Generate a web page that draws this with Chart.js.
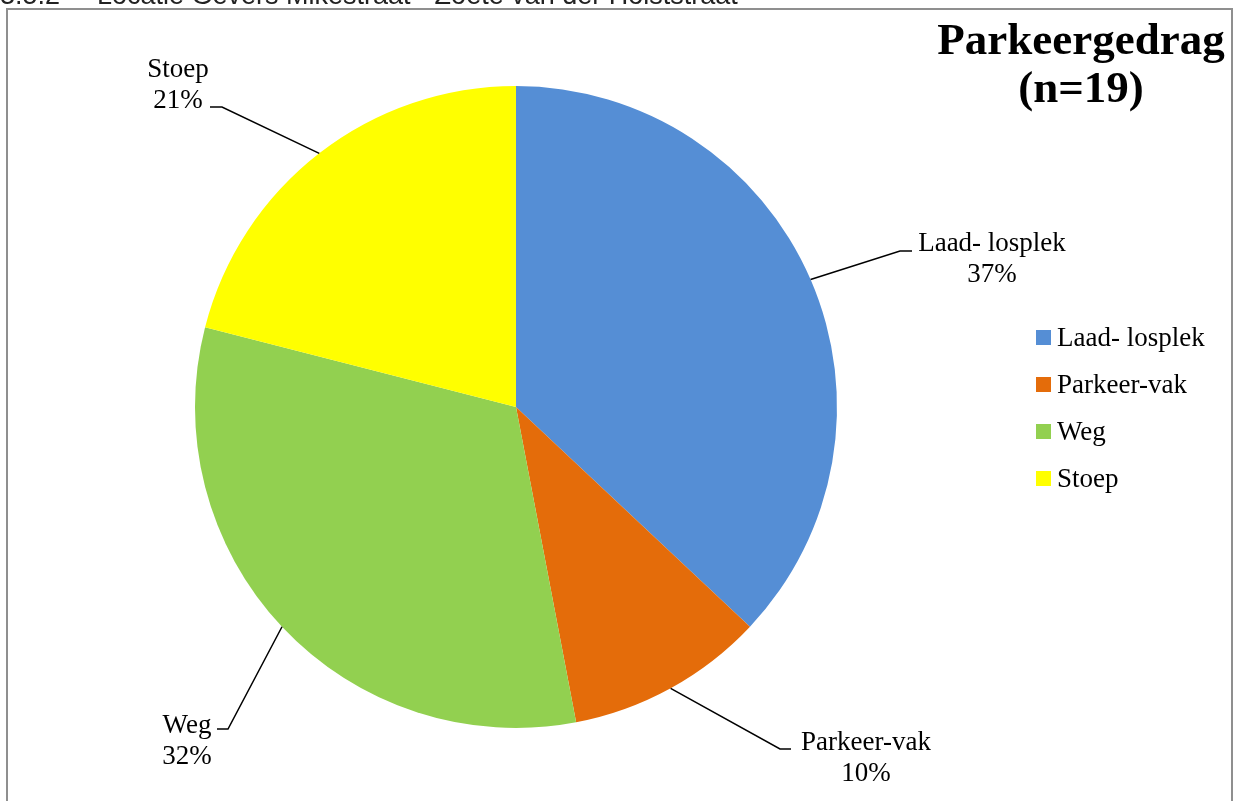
<!DOCTYPE html>
<html>
<head>
<meta charset="utf-8">
<script src="https://cdn.jsdelivr.net/npm/chart.js@4.4.0/dist/chart.umd.min.js"></script>
<style>
  html, body { margin: 0; padding: 0; background: #fff; overflow: hidden; }
  canvas { display: block; }
</style>
</head>
<body>
<canvas id="c" width="1236" height="801"></canvas>
<script>
// Parking behaviour at the location (n = 19), share per category in percent
const categories = ['Laad- losplek', 'Parkeer-vak', 'Weg', 'Stoep'];
const shares = [37, 10, 32, 21];
const sliceColors = ['#558ED5', '#E46C0A', '#92D050', '#FFFF00'];
const titleLines = ['Parkeergedrag', '(n=19)'];
const sectionNumber = '3.5.2';
const sectionHeading = 'Locatie Gevers Mikestraat - Zoete van der Holststraat';

// Where each data label sits: elbow of the leader line, end of its short
// horizontal tail, centre x of the text block and baseline of the first line.
const labelLayout = [
  { elbow: [900, 251], tail: 912, cx: 992, base: 251 },
  { elbow: [780, 749], tail: 791, cx: 866, base: 750 },
  { elbow: [228, 729], tail: 217, cx: 187, base: 733 },
  { elbow: [222, 107], tail: 210, cx: 178, base: 77 }
];

const SERIF = '"Liberation Serif", "Times New Roman", serif';

const decorations = {
  id: 'decorations',
  beforeDraw(chart) {
    const ctx = chart.ctx;
    ctx.save();
    // section heading, partly above the page edge
    ctx.fillStyle = '#222';
    ctx.font = '27px "Liberation Sans", Arial, sans-serif';
    ctx.textBaseline = 'alphabetic';
    ctx.textAlign = 'left';
    ctx.fillText(sectionNumber, 0, 4);
    ctx.fillText(sectionHeading, 97, 4);
    // frame around the chart
    ctx.strokeStyle = '#8f8f8f';
    ctx.lineWidth = 2;
    ctx.strokeRect(7, 9, 1225, 900);
    ctx.restore();
  },
  afterDraw(chart) {
    const ctx = chart.ctx;
    const meta = chart.getDatasetMeta(0);
    const data = chart.data.datasets[0].data;
    ctx.save();

    // title
    ctx.fillStyle = '#000';
    ctx.font = 'bold 45px ' + SERIF;
    ctx.textAlign = 'center';
    ctx.textBaseline = 'alphabetic';
    ctx.fillText(titleLines[0], 1081, 54);
    ctx.fillText(titleLines[1], 1081, 102);

    // legend
    ctx.font = '27px ' + SERIF;
    ctx.textAlign = 'left';
    chart.data.labels.forEach((lab, i) => {
      const cy = 337.5 + i * 47;
      ctx.fillStyle = chart.data.datasets[0].backgroundColor[i];
      ctx.fillRect(1036, cy - 7.5, 15, 15);
      ctx.fillStyle = '#000';
      ctx.fillText(lab, 1057, cy + 8.5);
    });

    // data labels with leader lines
    meta.data.forEach((arc, i) => {
      const p = arc.getProps(['x', 'y', 'startAngle', 'endAngle', 'outerRadius'], true);
      const mid = (p.startAngle + p.endAngle) / 2;
      const sx = p.x + Math.cos(mid) * p.outerRadius;
      const sy = p.y + Math.sin(mid) * p.outerRadius;
      const L = labelLayout[i];
      ctx.strokeStyle = '#000';
      ctx.lineWidth = 1.5;
      ctx.beginPath();
      ctx.moveTo(sx, sy);
      ctx.lineTo(L.elbow[0], L.elbow[1]);
      ctx.lineTo(L.tail, L.elbow[1]);
      ctx.stroke();
      ctx.fillStyle = '#000';
      ctx.textAlign = 'center';
      ctx.fillText(chart.data.labels[i], L.cx, L.base);
      ctx.fillText(data[i] + '%', L.cx, L.base + 31);
    });
    ctx.restore();
  }
};

new Chart(document.getElementById('c'), {
  type: 'pie',
  data: {
    labels: categories,
    datasets: [{
      data: shares,
      backgroundColor: sliceColors,
      borderWidth: 0
    }]
  },
  options: {
    responsive: false,
    animation: false,
    layout: { padding: { left: 194, right: 398, top: 86, bottom: 73 } },
    plugins: {
      legend: { display: false },
      tooltip: { enabled: false },
      title: { display: false }
    }
  },
  plugins: [decorations]
});
</script>
</body>
</html>
